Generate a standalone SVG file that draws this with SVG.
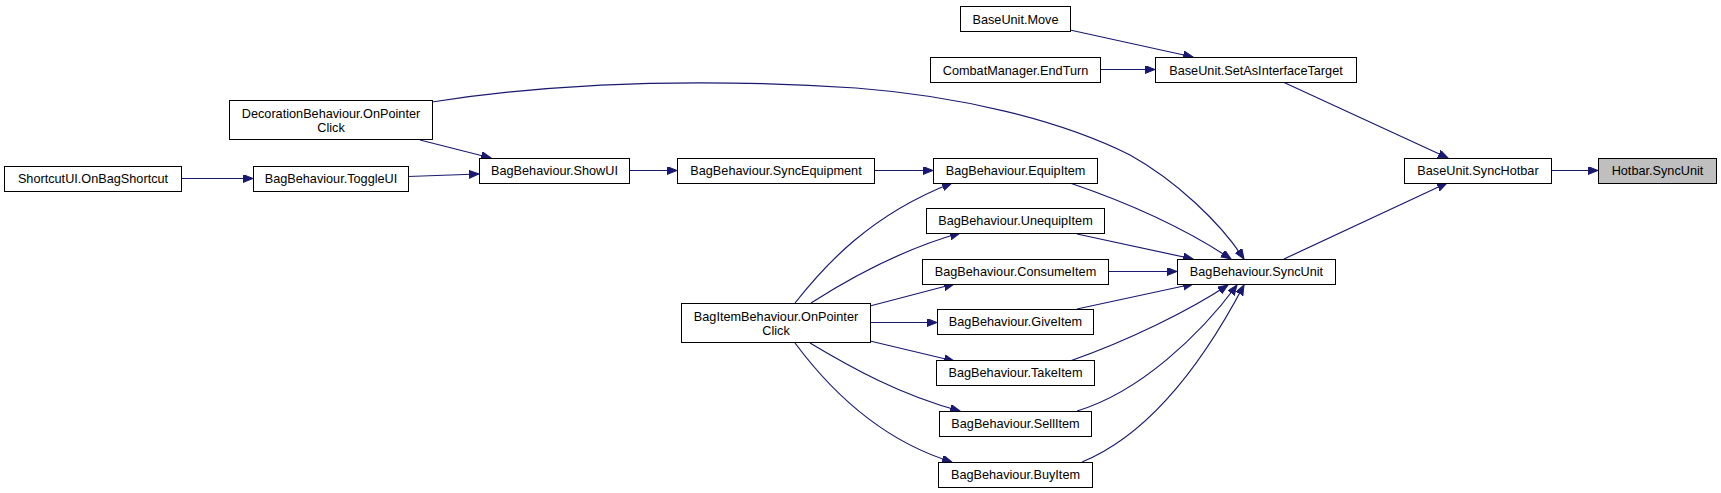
<svg xmlns="http://www.w3.org/2000/svg" width="1721" height="493" viewBox="0 0 1721 493">
<style>
.n rect{fill:#ffffff;stroke:#000000;stroke-width:1}
.n.f rect{fill:#bfbfbf}
.n text{font-family:"Liberation Sans",Arial,sans-serif;font-size:12.7px;fill:#000000;text-anchor:middle}
.e path{fill:none;stroke:#191970;stroke-width:1.2;marker-end:url(#ah)}
</style>
<defs>
<marker id="ah" markerUnits="userSpaceOnUse" markerWidth="11" markerHeight="9" refX="10" refY="4" orient="auto">
<path d="M0,0 L10,4 L0,8 z" fill="#191970" stroke="#191970" stroke-width="1"/>
</marker>
</defs>
<rect width="1721" height="493" fill="#ffffff"/>
<g id="edges" class="e">
<path d="M1551,170.5 L1598,170.5"/>
<path d="M1283,82 L1448,158"/>
<path d="M1284,259 L1447,183"/>
<path d="M1070,30 L1193,57"/>
<path d="M1100,69.5 L1155,69.5"/>
<path d="M432,102 C560,82 700,78 856,88 C960,96 1060,120 1130,155 C1175,180 1220,222 1244,259"/>
<path d="M420,140 L491,158"/>
<path d="M408,176.5 L479,174"/>
<path d="M181,178.5 L253,178.5"/>
<path d="M629,170.5 L677,170.5"/>
<path d="M874,170.5 L933,170.5"/>
<path d="M1070,183 C1120,200 1180,225 1231,259"/>
<path d="M1077,234 L1193,259"/>
<path d="M1108,271.5 L1177,271.5"/>
<path d="M1077,309 L1193,284"/>
<path d="M1070,361 C1130,340 1190,310 1228,285"/>
<path d="M1077,411 C1140,392 1200,335 1237,285"/>
<path d="M1082,462 C1160,430 1215,340 1244,285"/>
<path d="M795,303 C825,265 870,215 952,183"/>
<path d="M811,303 C850,278 900,250 960,233"/>
<path d="M870,306 L954,284"/>
<path d="M870,322.5 L937,322.5"/>
<path d="M870,341 L954,361"/>
<path d="M810,343 C850,367 900,395 960,411"/>
<path d="M795,343 C830,390 880,440 952,462"/>
</g>
<g id="node_move" class="n"><rect x="960.5" y="6.5" width="110" height="25"/><text x="1015.5" y="23.5">BaseUnit.Move</text></g>
<g id="node_endturn" class="n"><rect x="930.5" y="57.5" width="170" height="25"/><text x="1015.5" y="74.5">CombatManager.EndTurn</text></g>
<g id="node_setasinterfacetarget" class="n"><rect x="1155.5" y="57.5" width="201" height="25"/><text x="1256" y="74.5">BaseUnit.SetAsInterfaceTarget</text></g>
<g id="node_decoration" class="n"><rect x="229.5" y="100.5" width="203" height="39"/><text x="331" y="117.5">DecorationBehaviour.OnPointer</text><text x="331" y="131.5">Click</text></g>
<g id="node_synchotbar" class="n"><rect x="1404.5" y="158.5" width="147" height="25"/><text x="1478" y="175">BaseUnit.SyncHotbar</text></g>
<g id="node_hotbar" class="n f"><rect x="1598.5" y="158.5" width="118" height="25"/><text x="1657.5" y="175">Hotbar.SyncUnit</text></g>
<g id="node_shortcut" class="n"><rect x="4.5" y="166.5" width="177" height="25"/><text x="93" y="183">ShortcutUI.OnBagShortcut</text></g>
<g id="node_toggleui" class="n"><rect x="253.5" y="166.5" width="155" height="25"/><text x="331" y="183">BagBehaviour.ToggleUI</text></g>
<g id="node_showui" class="n"><rect x="479.5" y="158.5" width="150" height="25"/><text x="554.5" y="175">BagBehaviour.ShowUI</text></g>
<g id="node_syncequipment" class="n"><rect x="677.5" y="158.5" width="197" height="25"/><text x="776" y="175">BagBehaviour.SyncEquipment</text></g>
<g id="node_equipitem" class="n"><rect x="933.5" y="158.5" width="164" height="25"/><text x="1015.5" y="175">BagBehaviour.EquipItem</text></g>
<g id="node_unequipitem" class="n"><rect x="926.5" y="208.5" width="178" height="25"/><text x="1015.5" y="225">BagBehaviour.UnequipItem</text></g>
<g id="node_consumeitem" class="n"><rect x="922.5" y="259.5" width="186" height="25"/><text x="1015.5" y="276">BagBehaviour.ConsumeItem</text></g>
<g id="node_syncunit" class="n"><rect x="1177.5" y="259.5" width="158" height="25"/><text x="1256.5" y="276">BagBehaviour.SyncUnit</text></g>
<g id="node_bagitem" class="n"><rect x="681.5" y="303.5" width="189" height="39"/><text x="776" y="320.5">BagItemBehaviour.OnPointer</text><text x="776" y="334.5">Click</text></g>
<g id="node_giveitem" class="n"><rect x="937.5" y="309.5" width="156" height="25"/><text x="1015.5" y="326">BagBehaviour.GiveItem</text></g>
<g id="node_takeitem" class="n"><rect x="936.5" y="360.5" width="158" height="25"/><text x="1015.5" y="377">BagBehaviour.TakeItem</text></g>
<g id="node_sellitem" class="n"><rect x="939.5" y="411.5" width="152" height="25"/><text x="1015.5" y="428">BagBehaviour.SellItem</text></g>
<g id="node_buyitem" class="n"><rect x="938.5" y="462.5" width="154" height="25"/><text x="1015.5" y="479">BagBehaviour.BuyItem</text></g>
</svg>
